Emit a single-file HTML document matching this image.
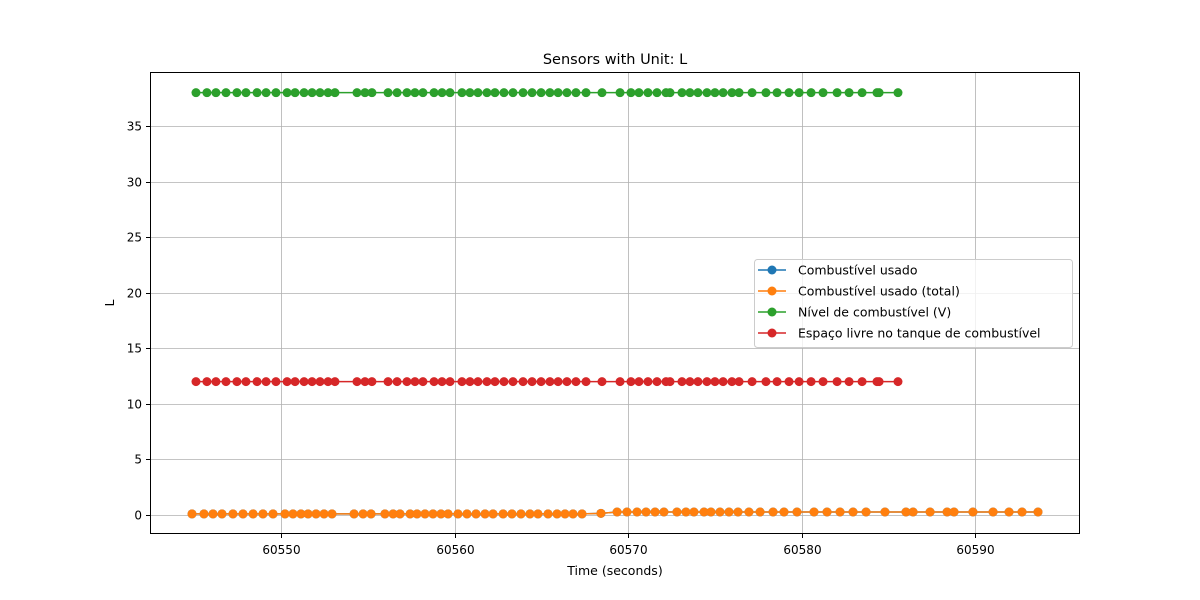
<!DOCTYPE html>
<html><head><meta charset="utf-8"><style>body{margin:0;background:#fff}svg{display:block}text{font-family:"DejaVu Sans","Liberation Sans",sans-serif}</style></head>
<body>
<svg id="chart" width="1200" height="600" xmlns="http://www.w3.org/2000/svg">
<rect width="1200" height="600" fill="#fff"/>
<g id="grid"></g>
<g id="series"></g>
<rect x="150.5" y="72.5" width="929" height="461" fill="none" stroke="#000" stroke-width="1"/>
<g id="axes"></g>
<text x="615" y="64" text-anchor="middle" font-size="14.5">Sensors with Unit: L</text>
<text x="615" y="575" text-anchor="middle" font-size="12.5">Time (seconds)</text>
<text transform="translate(114,303) rotate(-90)" text-anchor="middle" font-size="12.5">L</text>
<g id="legend"></g>
</svg>
<script>
const NS="http://www.w3.org/2000/svg";
const xTicks=[60550,60560,60570,60580,60590];
const yTicks=[0,5,10,15,20,25,30,35];
const timesLevel=[60545.10,60545.73,60546.25,60546.83,60547.46,60547.98,60548.62,60549.14,60549.71,60550.35,60550.81,60551.33,60551.79,60552.25,60552.71,60553.11,60554.38,60554.84,60555.24,60556.17,60556.69,60557.26,60557.72,60558.18,60558.82,60559.28,60559.74,60560.43,60560.89,60561.35,60561.87,60562.33,60562.85,60563.37,60563.95,60564.47,60564.99,60565.50,60565.97,60566.48,60567.00,60567.58,60568.50,60569.54,60570.17,60570.63,60571.15,60571.67,60572.19,60572.42,60573.11,60573.57,60574.03,60574.55,60575.01,60575.48,60575.99,60576.40,60577.15,60577.95,60578.59,60579.28,60579.86,60580.55,60581.24,60582.05,60582.74,60583.49,60584.35,60584.47,60585.56];
const levelValues=timesLevel.map(()=>38);
const freeValues=timesLevel.map(()=>12);
const timesUsed=[60544.87,60545.56,60546.08,60546.60,60547.23,60547.81,60548.39,60548.96,60549.54,60550.23,60550.69,60551.15,60551.56,60552.02,60552.48,60552.94,60554.21,60554.73,60555.19,60555.99,60556.46,60556.86,60557.44,60557.84,60558.30,60558.76,60559.22,60559.63,60560.20,60560.72,60561.24,60561.76,60562.22,60562.80,60563.31,60563.83,60564.35,60564.81,60565.39,60565.91,60566.37,60566.83,60567.35,60568.44,60569.37,60569.94,60570.52,60571.04,60571.56,60572.07,60572.82,60573.34,60573.80,60574.38,60574.78,60575.30,60575.82,60576.34,60576.97,60577.61,60578.36,60578.99,60579.74,60580.72,60581.47,60582.22,60582.97,60583.72,60584.81,60586.02,60586.43,60587.41,60588.39,60588.79,60589.88,60591.04,60591.96,60592.71,60593.63];
const usedValues=timesUsed.map((t,i)=>i<43?0.1:(i===43?0.15:0.27));
const names=["Combustível usado","Combustível usado (total)","Nível de combustível (V)","Espaço livre no tanque de combustível"];
const colors=["#1f77b4","#ff7f0e","#2ca02c","#d62728"];
const xMin=60542.45,xMax=60596.05,yMin=-1.71,yMax=39.86;
const X=v=>150+(v-xMin)/(xMax-xMin)*930;
const Y=v=>534-(v-yMin)/(yMax-yMin)*462;
function el(tag,attrs,parent){const e=document.createElementNS(NS,tag);for(const k in attrs)e.setAttribute(k,attrs[k]);parent.appendChild(e);return e;}
const grid=document.getElementById('grid'),axes=document.getElementById('axes'),ser=document.getElementById('series'),leg=document.getElementById('legend');
xTicks.forEach(t=>{const x=Math.round(X(t))+0.5;
 const g=el('line',{x1:x,x2:x,y1:72,y2:534,stroke:'#b0b0b0','stroke-width':0.8},grid);
 
 
 el('line',{x1:x,x2:x,y1:534,y2:538,stroke:'#000'},axes);
 const l=el('text',{x:x,y:554,'text-anchor':'middle','font-size':12},axes);l.textContent=t;
 
 });
yTicks.forEach(t=>{const y=Math.round(Y(t))+0.5;
 const g=el('line',{x1:150,x2:1080,y1:y,y2:y,stroke:'#b0b0b0','stroke-width':0.8},grid);
 
 
 el('line',{x1:146,x2:150,y1:y,y2:y,stroke:'#000'},axes);
 const l=el('text',{x:142,y:y+4,'text-anchor':'end','font-size':12},axes);l.textContent=t;
 
 });
function draw(ts,vs,c,name){const g=el('g',{},ser);
 
 
 el('polyline',{points:ts.map((t,i)=>X(t)+','+Y(vs[i])).join(' '),fill:'none',stroke:c,'stroke-width':1.5},g);
 ts.forEach((t,i)=>{const p=el('circle',{cx:X(t),cy:Y(vs[i]),r:4.5,fill:c},g);
  
  });}
draw(timesUsed,usedValues,colors[0],'series-fuel-used');
draw(timesUsed,usedValues,colors[1],'series-fuel-used-total');
draw(timesLevel,levelValues,colors[2],'series-fuel-level');
draw(timesLevel,freeValues,colors[3],'series-free-space');
el('rect',{x:754.5,y:259.5,width:318,height:88,rx:3,fill:'#fff','fill-opacity':0.8,stroke:'#ccc'},leg);
names.forEach((n,i)=>{const y=270+i*21;
 const g=el('g',{},leg);
 
 
 el('line',{x1:758,x2:786,y1:y,y2:y,stroke:colors[i],'stroke-width':1.5},g);
 el('circle',{cx:772,cy:y,r:4.5,fill:colors[i]},g);
 const t=el('text',{x:798,y:y+4.5,'font-size':12.5},g);t.textContent=n;});
</script>
</body></html>
